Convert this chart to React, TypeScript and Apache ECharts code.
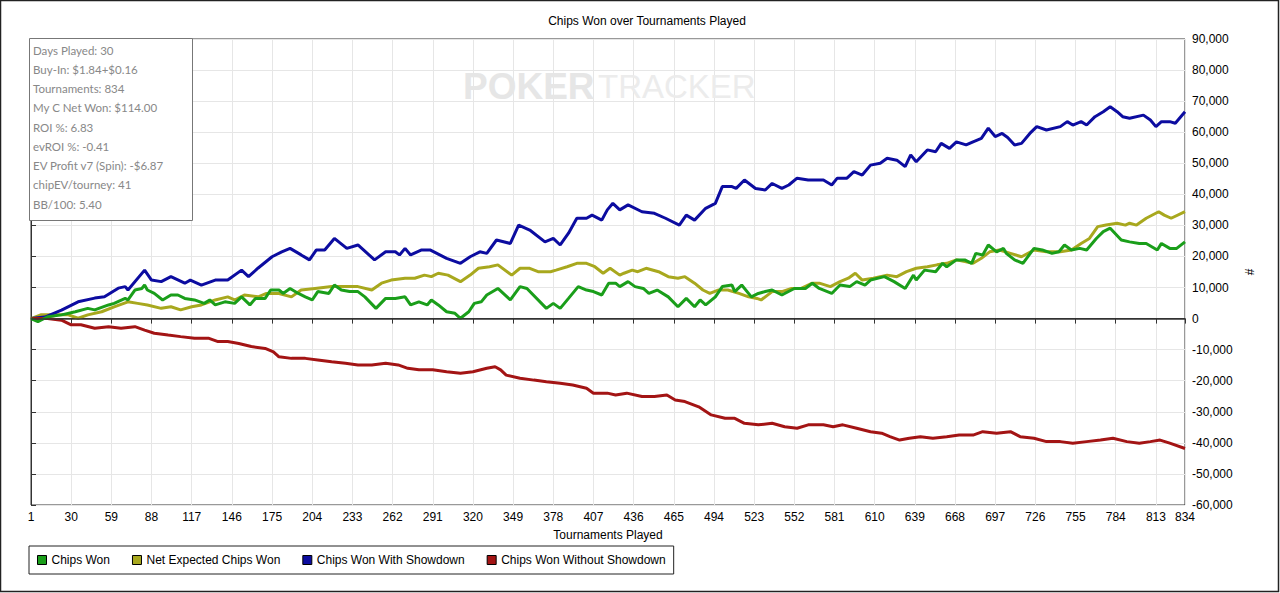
import React, { useEffect, useRef } from "react";
import * as echarts from "echarts";

const chartTitle = "Chips Won over Tournaments Played";
const xAxisName = "Tournaments Played";
const yAxisName = "#";
const seriesNames = [
  "Chips Won",
  "Net Expected Chips Won",
  "Chips Won With Showdown",
  "Chips Won Without Showdown",
];
const seriesColors = ["#1a9e1a", "#a8a81e", "#0c0ca0", "#a31414"];

const statsLines = [
  "Days Played: 30",
  "Buy-In: $1.84+$0.16",
  "Tournaments: 834",
  "My C Net Won: $114.00",
  "ROI %: 6.83",
  "evROI %: -0.41",
  "EV Profit v7 (Spin): -$6.87",
  "chipEV/tourney: 41",
  "BB/100: 5.40",
];

const firstTournament = 1;
const lastTournament = 834;
const tickStep = 29;
const yMin = -60000;
const yMax = 90000;
const yStep = 10000;

// [tournament, chips]
const chipsWon: [number, number][] = [
  [1, 0], [6, -1000], [13, 600], [23, 1200], [33, 2200], [42, 3300], [47, 2800], [57, 4400], [61, 4900],
  [69, 6500], [71, 6000], [76, 9200], [81, 9700], [83, 10800], [85, 9200], [90, 8100], [96, 6000],
  [102, 7600], [107, 7600], [112, 6500], [119, 6000], [126, 4900], [130, 6000], [134, 4400], [141, 5400],
  [148, 4900], [153, 7000], [159, 4400], [163, 6500], [170, 6500], [174, 9200], [180, 9200], [183, 8100],
  [188, 9700], [194, 8100], [199, 7000], [204, 6000], [208, 8700], [216, 8100], [220, 10800], [225, 9200],
  [231, 8700], [237, 8700], [242, 7000], [250, 3300], [257, 6500], [264, 6500], [271, 7000], [275, 4400],
  [281, 5400], [287, 4400], [290, 6000], [295, 4400], [301, 2200], [307, 1700], [311, 100], [317, 2200],
  [321, 4900], [326, 5400], [330, 7600], [338, 9700], [347, 6000], [354, 10300], [359, 9700], [373, 3300],
  [378, 4900], [383, 3300], [389, 6500], [396, 10300], [402, 9200], [407, 8700], [413, 7600], [418, 11400],
  [423, 11400], [426, 10300], [432, 11900], [437, 10300], [443, 9700], [447, 8100], [453, 9200], [461, 7000],
  [468, 3800], [474, 6500], [480, 3800], [484, 6000], [488, 4400], [495, 7000], [500, 10300], [507, 10800],
  [509, 8700], [514, 10800], [521, 7000], [526, 8100], [531, 8700], [536, 9200], [543, 7600], [552, 9700],
  [560, 9700], [565, 11400], [570, 9700], [579, 8100], [585, 10800], [592, 10300], [597, 11900], [603, 10800],
  [607, 12400], [617, 13500], [624, 11900], [632, 9700], [638, 14000], [640, 12400], [646, 15600], [654, 15100],
  [659, 17800], [662, 16700], [669, 18900], [675, 18900], [680, 17800], [683, 21000], [688, 20500], [692, 23700],
  [698, 21500], [703, 22600], [705, 21000], [711, 18900], [717, 17800], [725, 22600], [731, 22100], [738, 21000],
  [743, 21500], [747, 23700], [752, 22100], [758, 22600], [763, 22100], [770, 25800], [775, 28000], [780, 29100],
  [788, 25300], [794, 24700], [801, 24200], [806, 24200], [814, 22100], [817, 24200], [823, 22600], [828, 22600],
  [834, 24700],
];

const netExpectedChipsWon: [number, number][] = [
  [1, 0], [8, 1200], [18, 1200], [28, 1200], [35, 100], [42, 1200], [52, 2200], [61, 3800], [71, 5400],
  [78, 4900], [85, 4400], [95, 3300], [102, 3800], [109, 2800], [117, 3800], [124, 4400], [134, 6000],
  [143, 7000], [148, 6000], [155, 7600], [165, 7000], [171, 8100], [180, 8100], [189, 7000], [196, 9200],
  [206, 9700], [218, 10300], [228, 10300], [237, 10300], [247, 9200], [254, 11400], [261, 12400], [271, 13000],
  [278, 13000], [285, 14000], [290, 13500], [295, 14600], [302, 14000], [311, 11900], [318, 14000], [324, 16200],
  [332, 16700], [338, 17300], [348, 14000], [354, 16200], [361, 16200], [367, 15100], [376, 15100], [380, 15600],
  [388, 16700], [395, 17800], [402, 17800], [408, 16700], [414, 14600], [419, 16200], [426, 14000], [429, 14600],
  [435, 15600], [439, 15100], [445, 16200], [454, 15100], [461, 13500], [468, 13000], [473, 13500], [480, 11400],
  [486, 9200], [491, 8100], [497, 9200], [504, 9200], [512, 8100], [519, 7000], [525, 6500], [528, 6000],
  [536, 8700], [543, 8700], [550, 9700], [557, 9700], [565, 11400], [570, 11400], [578, 10300], [585, 11900],
  [591, 13000], [596, 14600], [601, 12400], [609, 13000], [619, 14000], [626, 13500], [633, 15100], [640, 16200],
  [648, 16700], [655, 17300], [662, 17800], [669, 18900], [676, 18300], [681, 17800], [687, 19400], [693, 21500],
  [700, 22100], [708, 21000], [716, 19900], [725, 22100], [734, 21500], [744, 21500], [752, 22100], [759, 24200],
  [765, 25800], [771, 29600], [777, 30100], [785, 30700], [791, 30100], [794, 30700], [799, 30100], [806, 32300],
  [815, 34400], [819, 33300], [824, 32300], [834, 34400],
];

const chipsWonWithShowdown: [number, number][] = [
  [1, 0], [11, 500], [23, 2700], [35, 5400], [47, 6600], [54, 7000], [64, 9800], [69, 10300], [71, 9200],
  [83, 15600], [88, 12400], [95, 11900], [102, 13500], [112, 11400], [116, 12400], [124, 10800], [134, 12400],
  [143, 12400], [153, 15600], [158, 13500], [165, 16300], [175, 19900], [182, 21500], [188, 22600], [196, 20500],
  [202, 18900], [207, 22100], [213, 22100], [220, 25800], [229, 22600], [237, 23700], [249, 18900], [257, 21500],
  [264, 21500], [267, 20500], [271, 22600], [275, 20500], [283, 22100], [289, 22100], [301, 19400], [311, 17800],
  [318, 19900], [325, 21500], [330, 21000], [337, 25300], [347, 24200], [353, 30100], [361, 28500], [372, 24700],
  [378, 25800], [383, 23700], [389, 27500], [395, 32300], [402, 32300], [406, 33300], [413, 31700], [417, 35000],
  [421, 37100], [426, 35000], [432, 36600], [442, 34400], [451, 33900], [459, 32300], [469, 30100], [474, 33300],
  [480, 31700], [488, 35500], [495, 37100], [500, 42500], [507, 42500], [510, 41900], [516, 44600], [524, 41900],
  [531, 41400], [536, 43500], [543, 41900], [548, 43000], [554, 45200], [562, 44600], [573, 44600], [579, 43000],
  [583, 45200], [590, 45200], [595, 47300], [601, 46200], [607, 49400], [614, 50000], [619, 51600], [626, 51000],
  [632, 48900], [636, 52700], [640, 50500], [648, 54300], [654, 53700], [658, 56400], [664, 54800], [669, 56900],
  [676, 55900], [681, 56900], [687, 58000], [692, 61300], [697, 58600], [702, 59600], [706, 58300], [711, 55900],
  [716, 56400], [722, 59600], [727, 61800], [734, 60700], [744, 61800], [749, 63400], [753, 62300], [759, 63400],
  [763, 62300], [769, 65000], [775, 66600], [780, 68200], [785, 66600], [789, 65000], [794, 64500], [804, 65500],
  [809, 63900], [813, 61800], [817, 63400], [823, 63400], [827, 62900], [834, 66600],
];

const chipsWonWithoutShowdown: [number, number][] = [
  [1, 0], [13, 0], [23, -500], [30, -2000], [37, -2000], [47, -3100], [57, -2600], [66, -3100], [76, -2600],
  [83, -3700], [90, -4700], [100, -5300], [109, -5800], [119, -6300], [129, -6300], [136, -7400], [143, -7400],
  [151, -8000], [160, -9000], [170, -9600], [176, -10700], [180, -12300], [189, -12800], [199, -12800],
  [208, -13300], [218, -13900], [228, -14400], [237, -14900], [247, -14900], [257, -14400], [266, -14900],
  [273, -16000], [281, -16500], [291, -16500], [301, -17100], [311, -17600], [320, -17100], [330, -16000],
  [336, -15500], [340, -16500], [344, -18200], [354, -19200], [364, -19800], [373, -20300], [383, -20800],
  [392, -21400], [402, -22400], [407, -24000], [417, -24000], [423, -24600], [431, -24000], [442, -25100],
  [451, -25100], [460, -24600], [466, -26200], [473, -26700], [483, -28400], [492, -31000], [502, -32100],
  [509, -32100], [516, -33700], [526, -34200], [536, -33700], [545, -34800], [554, -35300], [562, -34200],
  [573, -34200], [580, -34800], [587, -34200], [597, -35300], [607, -36400], [615, -36900], [621, -38000],
  [628, -39100], [635, -38500], [643, -38000], [652, -38500], [662, -38000], [671, -37500], [681, -37500],
  [688, -36400], [698, -36900], [708, -36400], [715, -38000], [725, -38500], [734, -39600], [744, -39600],
  [753, -40100], [763, -39600], [773, -39100], [782, -38500], [792, -39600], [801, -40100], [809, -39600],
  [816, -39100], [823, -40100], [834, -41800],
];

const seriesData = [chipsWon, netExpectedChipsWon, chipsWonWithShowdown, chipsWonWithoutShowdown];
const seriesZ = [4, 3, 3, 3];

const FONT = "'Liberation Sans', Arial, sans-serif";

export default function App() {
  const ref = useRef<HTMLDivElement>(null);

  useEffect(() => {
    if (!ref.current) return;
    const chart = echarts.init(ref.current, null, { renderer: "svg" });

    const series: any[] = seriesNames.map((name, i) => ({
      name,
      type: "line",
      showSymbol: false,
      symbol: "none",
      z: seriesZ[i],
      data: seriesData[i].map(([t, v]) => [t - firstTournament, v]),
      lineStyle: { color: seriesColors[i], width: 3 },
      itemStyle: { color: seriesColors[i] },
      emphasis: { disabled: true },
    }));
    series[3].markLine = {
      silent: true,
      symbol: "none",
      label: { show: false },
      lineStyle: { color: "#333", width: 1.5, type: "solid" },
      data: [{ yAxis: 0 }],
    };

    chart.setOption({
      animation: false,
      backgroundColor: "#fff",
      grid: {
        left: 31,
        right: 95,
        top: 39,
        bottom: 88,
        show: true,
        borderColor: "#333",
        borderWidth: 1,
        backgroundColor: "transparent",
      },
      legend: {
        data: seriesNames,
        left: 29,
        top: 546,
        orient: "horizontal",
        borderColor: "#222",
        borderWidth: 1,
        padding: [8, 8, 8, 8],
        itemGap: 22,
        itemWidth: 9,
        itemHeight: 9,
        icon: "rect",
        itemStyle: { borderColor: "#000", borderWidth: 1 },
        textStyle: { fontFamily: FONT, fontSize: 12, color: "#000" },
        selectedMode: false,
      },
      xAxis: {
        type: "value",
        min: 0,
        max: lastTournament - firstTournament,
        interval: tickStep,
        name: xAxisName,
        nameLocation: "middle",
        nameGap: 24,
        nameTextStyle: { fontFamily: FONT, fontSize: 12, color: "#000" },
        axisLine: { show: true, lineStyle: { color: "#333" } },
        axisTick: { show: true, length: 5, lineStyle: { color: "#333" } },
        axisLabel: {
          fontFamily: FONT,
          fontSize: 12,
          color: "#000",
          margin: 6,
          formatter: (v: number) => String(v + firstTournament),
        },
        splitLine: { show: true, lineStyle: { color: "#e6e6e6", width: 1 } },
      },
      yAxis: {
        type: "value",
        position: "right",
        min: yMin,
        max: yMax,
        interval: yStep,
        name: yAxisName,
        nameLocation: "middle",
        nameGap: 56,
        nameTextStyle: { fontFamily: FONT, fontSize: 12, color: "#000" },
        axisLine: { show: true, lineStyle: { color: "#333" } },
        axisTick: { show: true, length: 5, lineStyle: { color: "#333" } },
        axisLabel: {
          fontFamily: FONT,
          fontSize: 12,
          color: "#000",
          margin: 7,
          formatter: (v: number) => v.toLocaleString("en-US"),
        },
        splitLine: { show: true, lineStyle: { color: "#e6e6e6", width: 1 } },
      },
      graphic: [
        {
          type: "rect",
          z: -10,
          silent: true,
          shape: { x: 0.5, y: 0.5, width: 1278, height: 591 },
          style: { fill: "none", stroke: "#222", lineWidth: 1.5 },
        },
        {
          type: "text",
          x: 647,
          y: 21,
          silent: true,
          style: {
            text: chartTitle,
            fill: "#000",
            font: `12px ${FONT}`,
            textAlign: "center",
            textVerticalAlign: "middle",
          },
        },
        {
          type: "text",
          x: 463,
          y: 86,
          z: 1,
          silent: true,
          style: {
            text: "POKER",
            fill: "#e6e6e6",
            font: `bold 37px ${FONT}`,
            textAlign: "left",
            textVerticalAlign: "middle",
          },
        },
        {
          type: "text",
          x: 598,
          y: 86,
          z: 1,
          silent: true,
          style: {
            text: "TRACKER",
            fill: "#ececec",
            font: `33px ${FONT}`,
            textAlign: "left",
            textVerticalAlign: "middle",
          },
        },
        {
          type: "group",
          x: 29,
          y: 38,
          z: 100,
          silent: true,
          children: [
            {
              type: "rect",
              z: 100,
              shape: { x: 0.5, y: 0.5, width: 163, height: 182 },
              style: { fill: "#fff", stroke: "#777", lineWidth: 1 },
            },
            ...statsLines.map((s, i) => ({
              type: "text",
              z: 101,
              x: 4,
              y: 12 + i * 19.25,
              style: {
                text: s,
                fill: "#888",
                font: "11.5px Lato, 'Open Sans', sans-serif",
                textAlign: "left",
                textVerticalAlign: "middle",
              },
            })),
          ],
        },
      ],
      series,
    });

    return () => chart.dispose();
  }, []);

  return (
    <div
      ref={ref}
      style={{ position: "absolute", left: 0, top: 0, width: 1280, height: 593 }}
    />
  );
}
